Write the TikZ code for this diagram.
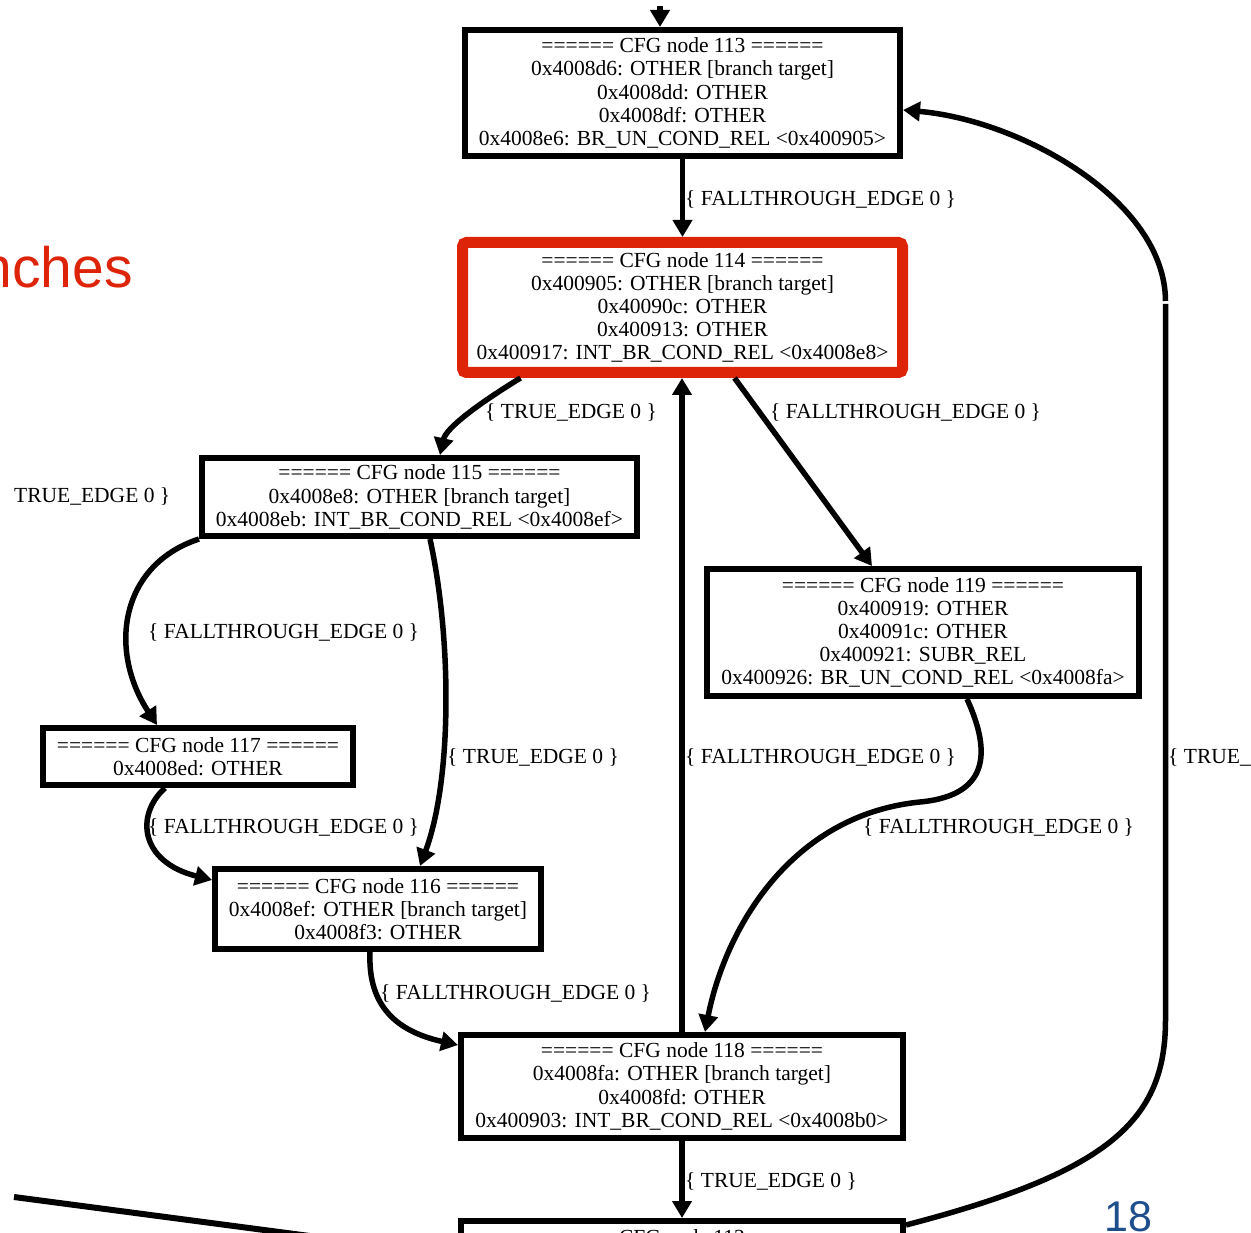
\documentclass[tikz,border=0pt]{standalone}
\usepackage{fontspec}
\setmainfont{Liberation Serif}
\newfontfamily\slidesans{Liberation Sans}
\usetikzlibrary{arrows.meta}
\definecolor{slidered}{RGB}{221,36,8}
\definecolor{slideblue}{RGB}{30,78,140}
\begin{document}
\begin{tikzpicture}[x=1pt,y=-1pt,
  cfgfont/.style={font=\fontsize{21.5}{23.2}\selectfont},
  cfg/.style={draw=black, line width=6pt, rectangle, inner sep=0pt, align=center, cfgfont},
  hot/.style={cfg, draw=slidered, line width=11pt, rounded corners=4pt},
  edge/.style={line width=5.5pt, -{Triangle[length=17pt,width=19pt]}},
  lbl/.style={anchor=base west, inner sep=0pt, cfgfont}
]
\useasboundingbox (0,0) rectangle (1251,1233);
\clip (0,0) rectangle (1251,1233);

% basic blocks
\node[cfg, minimum width=435pt, minimum height=126pt] (n113) at (682.5,93)
  {====== CFG node 113 ======\\0x4008d6: OTHER [branch target]\\0x4008dd: OTHER\\0x4008df: OTHER\\0x4008e6: BR\_UN\_COND\_REL <0x400905>};
\node[hot, minimum width=440pt, minimum height=130pt] (n114) at (682.5,307.5)
  {====== CFG node 114 ======\\0x400905: OTHER [branch target]\\0x40090c: OTHER\\0x400913: OTHER\\0x400917: INT\_BR\_COND\_REL <0x4008e8>};
\node[cfg, minimum width=435pt, minimum height=78pt] (n115) at (419.5,497)
  {====== CFG node 115 ======\\0x4008e8: OTHER [branch target]\\0x4008eb: INT\_BR\_COND\_REL <0x4008ef>};
\node[cfg, minimum width=432pt, minimum height=127pt] (n119) at (923,632.5)
  {====== CFG node 119 ======\\0x400919: OTHER\\0x40091c: OTHER\\0x400921: SUBR\_REL\\0x400926: BR\_UN\_COND\_REL <0x4008fa>};
\node[cfg, minimum width=310pt, minimum height=57pt] (n117) at (198,756.5)
  {====== CFG node 117 ======\\0x4008ed: OTHER};
\node[cfg, minimum width=326pt, minimum height=80pt] (n116) at (378,909)
  {====== CFG node 116 ======\\0x4008ef: OTHER [branch target]\\0x4008f3: OTHER};
\node[cfg, minimum width=442pt, minimum height=103pt] (n118) at (682,1086.5)
  {====== CFG node 118 ======\\0x4008fa: OTHER [branch target]\\0x4008fd: OTHER\\0x400903: INT\_BR\_COND\_REL <0x4008b0>};
\node[cfg, minimum width=442pt, minimum height=126pt, anchor=north] (n112) at (682,1218) {};
\node[cfgfont, inner sep=0pt, anchor=base] (n112head) at (682,1244) {====== CFG node 112 ======};

% free ends of edges that leave the frame
\coordinate (entry) at (660,6);
\coordinate (farA) at (14,1197);
\coordinate (farB) at (340,1240);
\coordinate (bend) at (1165.5,304);

% edges
\draw[edge] (entry) -- (entry |- n113.north);
\draw[edge] (n113.south) -- (n114.north);
\draw[edge] ([xshift=-162pt]n114.south) .. controls (478,404) and (446,428) .. ([xshift=20.5pt]n115.north);
\draw[edge] ([xshift=52pt]n114.south) -- ([xshift=-51pt]n119.north);
\draw[edge] (n118.north) -- (n118.north |- n114.south);
\draw[edge] (n115.south west) .. controls (120,565) and (108,650) .. ([xshift=-41pt]n117.north);
\draw[edge] ([xshift=10.5pt]n115.south) .. controls (452,640) and (452,780) .. ([xshift=42pt]n116.north);
\draw[edge] ([xshift=-33pt]n117.south) .. controls (135,815) and (140,862) .. ([yshift=-14pt]n116.north west);
\draw[edge] ([xshift=-8pt]n116.south) .. controls (368,1000) and (390,1030) .. ([yshift=-13pt]n118.north west);
\draw[edge] ([xshift=44pt]n119.south) .. controls (988,745) and (995,795) .. (920,802)
  .. controls (790,815) and (725,930) .. ([xshift=23pt]n118.north);
\draw[edge] (n118.south) -- (n118.south |- n112.north);
\draw[line width=5.5pt] ([yshift=-7pt]n112.north east) .. controls (1110,1172) and (1165.5,1120) .. (1165.5,1020) -- (bend);
\draw[edge] ([yshift=3pt]bend) .. controls (1165,200) and (1020,120) .. ([yshift=-17pt]n113.east);
\draw[line width=6pt] (farA) -- (farB);

% edge labels
\node[lbl] (l1) at (685,206) {\{ FALLTHROUGH\_EDGE 0 \}};
\node[lbl] (l2) at (485,418) {\{ TRUE\_EDGE 0 \}};
\node[lbl] (l3) at (770,418) {\{ FALLTHROUGH\_EDGE 0 \}};
\node[lbl] (l4) at (14,502) {TRUE\_EDGE 0 \}};
\node[lbl] (l5) at (148,638) {\{ FALLTHROUGH\_EDGE 0 \}};
\node[lbl] (l6) at (685,763) {\{ FALLTHROUGH\_EDGE 0 \}};
\node[lbl] (l7) at (447,763) {\{ TRUE\_EDGE 0 \}};
\node[lbl] (l8) at (1168,763) {\{ TRUE\_EDGE 0 \}};
\node[lbl] (l9) at (148,833) {\{ FALLTHROUGH\_EDGE 0 \}};
\node[lbl] (l10) at (863,833) {\{ FALLTHROUGH\_EDGE 0 \}};
\node[lbl] (l11) at (380,999) {\{ FALLTHROUGH\_EDGE 0 \}};
\node[lbl] (l12) at (685,1187) {\{ TRUE\_EDGE 0 \}};

% slide title fragment and page number
\node[anchor=base east, inner sep=0pt, text=slidered, font=\slidesans\fontsize{57}{60}\selectfont] (title) at (133,288) {nches};
\node[anchor=base west, inner sep=0pt, text=slideblue, font=\slidesans\fontsize{43}{46}\selectfont] (page) at (1104,1231) {18};
\end{tikzpicture}
\end{document}
